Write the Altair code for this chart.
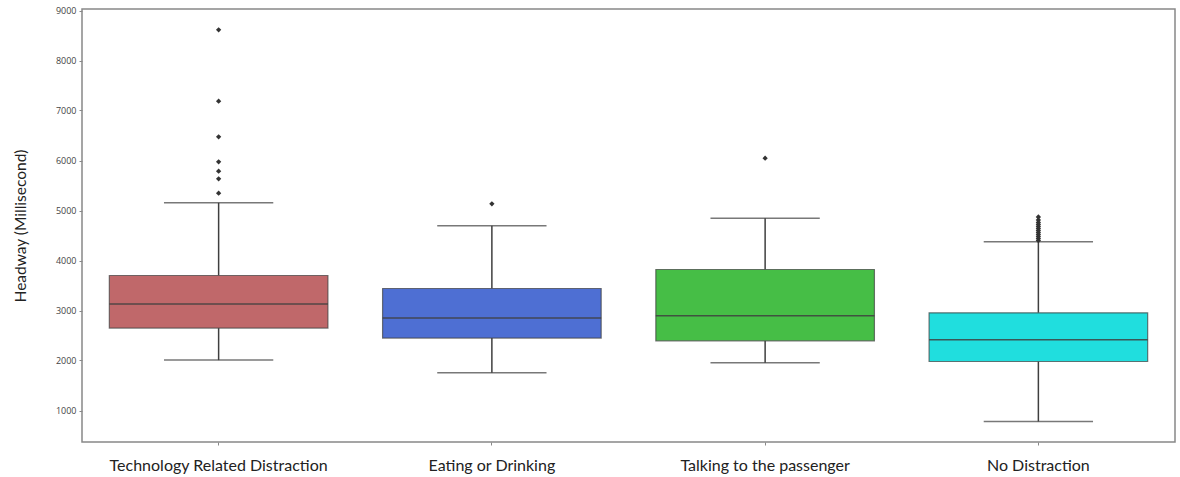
import altair as alt
import pandas as pd

# Box statistics per distraction type (milliseconds)
categories = ["Technology Related Distraction", "Eating or Drinking",
              "Talking to the passenger", "No Distraction"]
lower_whisker = [2008, 1754, 1954, 780]
q1 = [2648, 2448, 2394, 1980]
median = [3128, 2848, 2894, 2414]
q3 = [3700, 3440, 3820, 2954]
upper_whisker = [5154, 4694, 4846, 4374]
colors = ["#C0686A", "#4E6FD3", "#46BE46", "#20DEDE"]

# Outlying observations
outlier_cat = (["Technology Related Distraction"] * 7
               + ["Eating or Drinking"]
               + ["Talking to the passenger"]
               + ["No Distraction"] * 12)
outlier_val = ([8614, 7186, 6474, 5974, 5786, 5634, 5346]
               + [5134]
               + [6046]
               + [4400, 4440, 4480, 4520, 4560, 4600, 4640, 4680, 4720, 4760, 4810, 4870])

stats = pd.DataFrame({
    "cat": categories, "lo": lower_whisker, "q1": q1, "med": median,
    "q3": q3, "hi": upper_whisker,
})
fliers = pd.DataFrame({"cat": outlier_cat, "val": outlier_val})

W, H = 1093, 433
band = W / 4
edge = "#3F3F3F"

x = alt.X("cat:N", sort=categories,
          scale=alt.Scale(paddingInner=0, paddingOuter=0),
          axis=alt.Axis(title=None, labelAngle=0, labelFont="Lato", labelLimit=0,
                        labelFontSize=16, labelColor="#222222", labelPadding=12,
                        tickSize=3, tickColor="#888888", domain=False))
yscale = alt.Scale(domain=[370, 9030], nice=False, zero=False)
y = alt.Y("lo:Q", scale=yscale,
          axis=alt.Axis(title="Headway (Millisecond)", values=list(range(1000, 10000, 1000)),
                        format="d", grid=False, domain=False, labelFontSize=9,
                        labelColor="#444444", labelFont="Open Sans", tickSize=3,
                        tickColor="#888888", titleFont="Lato", titleFontSize=15.5,
                        titleFontWeight="normal", titleColor="#222222",
                        titlePadding=27, labelPadding=3))

base = alt.Chart(stats)

whisker_low = base.mark_rule(color=edge, strokeWidth=1.5).encode(
    x=x, y=y, y2="q1:Q")
whisker_high = base.mark_rule(color=edge, strokeWidth=1.5).encode(
    x=x, y=alt.Y("q3:Q", scale=yscale), y2="hi:Q")
cap_low = base.mark_tick(color=edge, size=band * 0.4, thickness=1.5).encode(
    x=x, y=alt.Y("lo:Q", scale=yscale))
cap_high = base.mark_tick(color=edge, size=band * 0.4, thickness=1.5).encode(
    x=x, y=alt.Y("hi:Q", scale=yscale))
boxes = base.mark_bar(width=alt.RelativeBandSize(0.8), stroke=edge, strokeWidth=1.2,
                      strokeOpacity=0.7).encode(
    x=x, y=alt.Y("q1:Q", scale=yscale), y2="q3:Q",
    color=alt.Color("cat:N", scale=alt.Scale(domain=categories, range=colors), legend=None))
medians = base.mark_tick(color=edge, size=band * 0.8, thickness=1.5, opacity=0.85).encode(
    x=x, y=alt.Y("med:Q", scale=yscale))
points = alt.Chart(fliers).mark_point(shape="diamond", filled=True, color="#333333",
                                      size=28, opacity=1).encode(
    x=x, y=alt.Y("val:Q", scale=yscale))

chart = alt.layer(whisker_low, whisker_high, cap_low, cap_high, boxes, medians, points).properties(
    width=W, height=H,
    autosize=alt.AutoSizeParams(type="none"),
    padding={"left": 82, "top": 9, "right": 5, "bottom": 35},
    background="white",
).configure_view(stroke="#888888", strokeWidth=1.5)

chart.save("out.html", embed_options={"renderer": "svg", "actions": False})
